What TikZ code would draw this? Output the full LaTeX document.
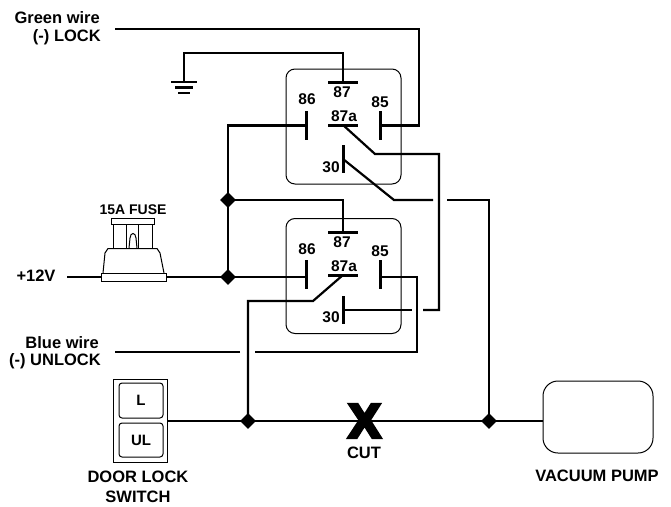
\documentclass[tikz,border=0pt]{standalone}
\usepackage{fontspec}
\setmainfont{Liberation Sans}
\newfontfamily\heavyfont{Liberation Sans}[BoldFeatures={FakeBold=7}]
\usetikzlibrary{shapes.geometric}

\begin{document}
\begin{tikzpicture}[x=1pt,y=-1pt]
\tikzstyle{wire}=[line width=2.2pt, line join=miter]
\tikzstyle{thinline}=[line width=1pt]
\tikzstyle{relay}=[draw, line width=1pt, rounded corners=9pt, inner sep=0pt, minimum width=115pt, minimum height=115pt]
\tikzstyle{hbar}=[fill=black, inner sep=0pt, minimum width=30pt, minimum height=3pt]
\tikzstyle{vbar}=[fill=black, inner sep=0pt, minimum width=3pt, minimum height=29pt]
\tikzstyle{junction}=[diamond, fill=black, inner sep=0pt, minimum size=16pt]
\tikzstyle{lbl}=[inner sep=0pt, font=\fontsize{16.5}{18}\selectfont\bfseries]
\tikzstyle{pin}=[inner sep=0pt, font=\fontsize{15.5}{17}\selectfont\bfseries]
\useasboundingbox (0,0) rectangle (671,506);

% Wire labels on the left

\node[lbl, anchor=east] (green) at (100,18) {Green wire};
\node[lbl, anchor=east] (lock) at (101,37) {(-) LOCK};
\node[lbl, anchor=east] (blue) at (99,343) {Blue wire};
\node[lbl, anchor=east] (unlock) at (101,361) {(-) UNLOCK};
\node[lbl] (plus12) at (36,276) {+12V};

% Upper relay

\node[relay] (urelay) at (343.5,126.5) {};
\node[hbar] (u87) at (343,82) {};
\node[hbar] (u87a) at (343,125) {};
\node[vbar] (u86) at (306,125.5) {};
\node[vbar] (u85) at (380,125.5) {};
\node[vbar, minimum height=28pt] (u30) at (343,159) {};
\node[pin] (u87t) at (342,92) {87};
\node[pin] (u87at) at (344,116) {87a};
\node[pin] (u86t) at (307,99) {86};
\node[pin] (u85t) at (380,102) {85};
\node[pin] (u30t) at (331,167) {30};

% Lower relay

\node[relay] (lrelay) at (343.5,276) {};
\node[hbar] (l87) at (343,232) {};
\node[hbar] (l87a) at (343,275) {};
\node[vbar] (l86) at (306,274.5) {};
\node[vbar] (l85) at (380,274.5) {};
\node[vbar, minimum height=28pt] (l30) at (343,310) {};
\node[pin] (l87t) at (342,242) {87};
\node[pin] (l87at) at (344,266) {87a};
\node[pin] (l86t) at (307,249) {86};
\node[pin] (l85t) at (380,251) {85};
\node[pin] (l30t) at (331,317) {30};

% Junctions, switch and pump

\node[junction] (jrelay) at (228,200) {};
\node[junction] (jfuse) at (228,277) {};
\node[junction] (jswitch) at (248,421) {};
\node[junction] (jpump) at (489,421) {};

\node[draw, thinline, inner sep=0pt, minimum width=54pt, minimum height=83pt] (switch) at (140,420.5) {};
\node[draw, thinline, rounded corners=3pt, inner sep=0pt, minimum width=44pt, minimum height=35pt, font=\fontsize{15}{17}\selectfont\bfseries] (lbtn) at (141,400.5) {L};
\node[draw, thinline, rounded corners=3pt, inner sep=0pt, minimum width=44pt, minimum height=34pt, font=\fontsize{15}{17}\selectfont\bfseries] (ulbtn) at (141,440) {UL};
\node[lbl] (doorlock) at (138,477) {DOOR LOCK};
\node[lbl] (doorswitch) at (138,497) {SWITCH};

\node[draw, line width=1pt, rounded corners=15pt, inner sep=0pt, minimum width=110pt, minimum height=72pt] (pump) at (598,417) {};
\node[lbl] (pumpt) at (597,476) {VACUUM PUMP};

% Fuse

\node[draw, thinline, inner sep=0pt, minimum width=65pt, minimum height=8pt] (fusebase) at (133.5,277) {};
\node[draw, thinline, inner sep=0pt, minimum width=43pt, minimum height=6pt] (fusetop) at (132.5,221) {};
\node[inner sep=0pt, font=\fontsize{14}{16}\selectfont\bfseries] (fuset) at (133,210) {15A FUSE};
\draw[thinline] (103,273) -- (105,253) -- (108,248.5) -- (157,248.5) -- (160,253) -- (164,273);
\draw[thinline] (113,224) -- (113,248) (126,224) -- (126,248) (138,224) -- (138,248) (152,224) -- (152,248);
\draw[thinline] (129,248) -- (130,238) .. controls (130.5,232) and (135.5,232) .. (136,238) -- (137,248);

% Ground

\coordinate (gndcorner) at (184,53);
\node[hbar, minimum width=26pt, minimum height=2.6pt] (gnd1) at (184,82) {};
\node[hbar, minimum width=18pt, minimum height=2.2pt] (gnd2) at (184,87.5) {};
\node[hbar, minimum width=12pt, minimum height=2.2pt] (gnd3) at (184,93) {};

% Coordinates of the wire runs

\coordinate (lockend) at (115,29);
\coordinate (lockdrop) at (419,125.5);
\coordinate (ubend) at (375,154);
\coordinate (ucross) at (439,154);
\coordinate (ureturn) at (439,310);
\coordinate (ureturnend) at (423,310);
\coordinate (uswing) at (394,200);
\coordinate (ugapa) at (433,200);
\coordinate (ugapb) at (447,200);
\coordinate (lswing) at (313,301);
\coordinate (lturn) at (248,301);
\coordinate (ldrop) at (417,277);
\coordinate (lunder) at (417,352);
\coordinate (lgapa) at (255,352);
\coordinate (lgapb) at (240,352);
\coordinate (unlockend) at (115,352);
\coordinate (l30end) at (412,310);
\coordinate (plusend) at (67,277);

% Wires

\draw[wire] (u87.center) |- (gndcorner) -- (gnd1.center);
\draw[wire] (lockend) -| (lockdrop) -- (u85.center);
\draw[wire] (u86.center) -| (jfuse.center);
\draw[wire] (u87a.center) -- (ubend) -- (ucross) -- (ureturn) -- (ureturnend);
\draw[wire] (u30.center) -- (uswing) -- (ugapa);
\draw[wire] (ugapb) -| (jpump.center);
\draw[wire] (l87.center) |- (jrelay.center);
\draw[wire] (l86.center |- jfuse) -- (jfuse.center);
\draw[wire] (l87a.center) -- (lswing) -- (lturn) -- (jswitch.center);
\draw[wire] (l85.center |- ldrop) -- (ldrop) -- (lunder) -- (lgapa);
\draw[wire] (lgapb) -- (unlockend);
\draw[wire] (l30.center) -- (l30end);
\draw[wire] (plusend) -- (fusebase.west);
\draw[wire] (fusebase.east) -- (jfuse.center);
\draw[wire] (switch.east |- jswitch) -- (jswitch.center) -- (jpump.center) -- (pump.west |- jpump);

% Cut mark

\node[inner sep=0pt, font=\fontsize{48}{48}\selectfont\heavyfont\bfseries] (cutx) at (364.5,421) {X};
\node[lbl] (cutt) at (364,453) {CUT};

\end{tikzpicture}
\end{document}
